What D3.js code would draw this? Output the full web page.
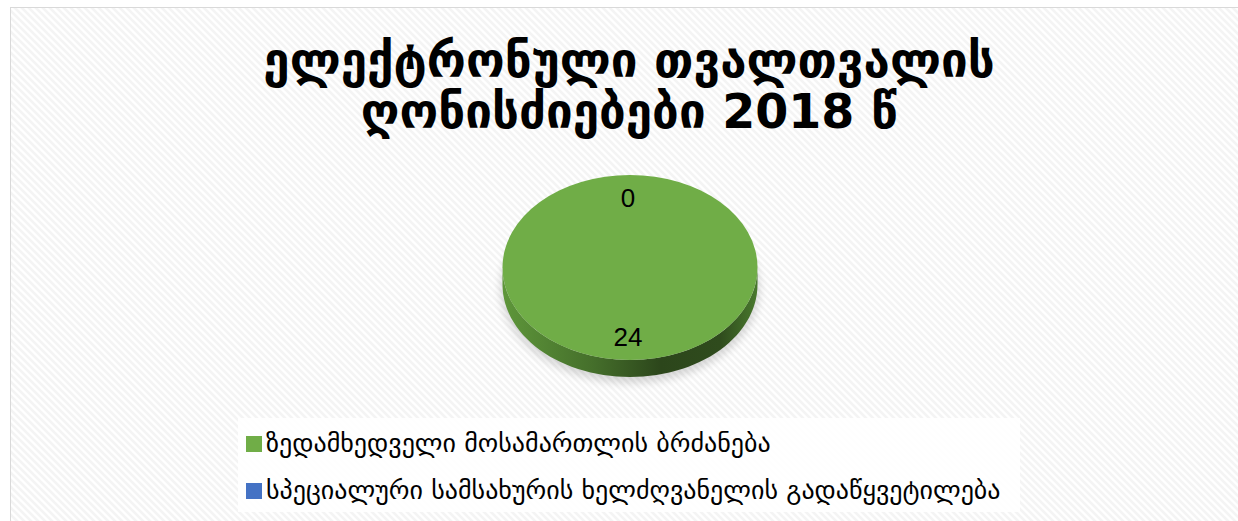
<!DOCTYPE html>
<html>
<head>
<meta charset="utf-8">
<script src="https://cdnjs.cloudflare.com/ajax/libs/d3/7.8.5/d3.min.js"></script>
<style>
  body { margin: 0; background: #fff; }
</style>
</head>
<body>
<div id="chart"></div>
<script>
// chart data
var titleLines = ["ელექტრონული თვალთვალის", "ღონისძიებები 2018 წ"];
var categories = ["ზედამხედველი მოსამართლის ბრძანება",
                  "სპეციალური სამსახურის ხელძღვანელის გადაწყვეტილება"];
var values = [24, 0];
var colors = ["#70ad47", "#4472c4"];

var svgWidth = 1238;
var svgHeight = 521;

var svg = d3.select("#chart")
  .append("svg")
  .attr("width", svgWidth)
  .attr("height", svgHeight);

var defs = svg.append("defs");

// diagonal hatch background
var pat = defs.append("pattern")
  .attr("id", "hatch")
  .attr("patternUnits", "userSpaceOnUse")
  .attr("width", 7)
  .attr("height", 7);
pat.append("rect").attr("width", 7).attr("height", 7).attr("fill", "#ffffff");
pat.append("path")
  .attr("d", "M-1,-1 L8,8 M-8,-1 L1,8 M6,-1 L15,8")
  .attr("stroke", "#f4f4f4")
  .attr("stroke-width", 2.6);

// side gradient
var grad = defs.append("linearGradient")
  .attr("id", "sideGrad")
  .attr("gradientUnits", "userSpaceOnUse")
  .attr("x1", 503).attr("x2", 758).attr("y1", 0).attr("y2", 0);
[["0%", "#5e963a"], ["35%", "#456f2b"], ["62%", "#2c461b"], ["85%", "#2f4b1d"], ["100%", "#4a7a2e"]]
  .forEach(function(s) {
    grad.append("stop").attr("offset", s[0]).attr("stop-color", s[1]);
  });

var blur = defs.append("filter").attr("id", "shadow")
  .attr("x", "-20%").attr("y", "-20%").attr("width", "140%").attr("height", "140%");
blur.append("feGaussianBlur").attr("stdDeviation", 4);

// chart frame
svg.append("rect")
  .attr("x", 10.5).attr("y", 7.5)
  .attr("width", 1250).attr("height", 530)
  .attr("fill", "url(#hatch)")
  .attr("stroke", "#d9d9d9")
  .attr("stroke-width", 1);

// title
var title = svg.append("text")
  .attr("text-anchor", "middle")
  .attr("font-family", "DejaVu Sans")
  .attr("font-weight", "bold")
  .attr("font-size", 47.5)
  .attr("fill", "#000");
titleLines.forEach(function(t, i) {
  title.append("tspan")
    .attr("x", 629)
    .attr("y", 77 + i * 51)
    .text(t);
});

// 3d pie
var cx = 630, cy = 267.5, rx = 127.5, ry = 92.5, depth = 17;

var pie = d3.pie().sort(null).value(d => d);
var arcs = pie(values);

function ex(a, r) { return cx + r * Math.sin(a); }
function ey(a, r, off) { return cy - (r * ry / rx) * Math.cos(a) + (off || 0); }

// shadow under pie
svg.append("ellipse")
  .attr("cx", cx).attr("cy", cy + depth + 4)
  .attr("rx", rx + 2).attr("ry", ry + 2)
  .attr("fill", "#000")
  .attr("opacity", 0.15)
  .attr("filter", "url(#shadow)");

// side walls (front half only)
arcs.forEach(function(d) {
  var a0 = Math.max(d.startAngle, Math.PI / 2);
  var a1 = Math.min(d.endAngle, Math.PI * 1.5);
  if (a1 <= a0) return;
  var pts = [];
  var n = 60;
  for (var i = 0; i <= n; i++) {
    var a = a0 + (a1 - a0) * i / n;
    pts.push([ex(a, rx), ey(a, rx)]);
  }
  for (var j = n; j >= 0; j--) {
    var b = a0 + (a1 - a0) * j / n;
    pts.push([ex(b, rx), ey(b, rx, depth)]);
  }
  svg.append("path")
    .attr("d", d3.line()(pts) + "Z")
    .attr("fill", "url(#sideGrad)");
});

// top face
var arc = d3.arc().innerRadius(0).outerRadius(rx);
var topFace = svg.append("g")
  .attr("transform", `translate(${cx},${cy}) scale(1,${ry / rx})`);
topFace.selectAll("path")
  .data(arcs)
  .enter()
  .append("path")
  .attr("d", arc)
  .attr("fill", (d, i) => colors[i]);

// data labels
var labelR = rx * 0.75;
svg.selectAll(".lbl")
  .data(arcs)
  .enter()
  .append("text")
  .attr("class", "lbl")
  .attr("x", d => ex((d.startAngle + d.endAngle) / 2, labelR) - 2)
  .attr("y", d => ey((d.startAngle + d.endAngle) / 2, labelR))
  .attr("dy", "0.35em")
  .attr("text-anchor", "middle")
  .attr("font-family", "Liberation Sans")
  .attr("font-size", 26)
  .attr("fill", "#000")
  .text(d => d.data);

// legend
svg.append("rect")
  .attr("x", 238).attr("y", 418)
  .attr("width", 782).attr("height", 94)
  .attr("fill", "#ffffff")
  .attr("opacity", 0.85);

var legend = svg.selectAll(".leg")
  .data(categories)
  .enter()
  .append("g")
  .attr("class", "leg")
  .attr("transform", (d, i) => `translate(246, ${436 + i * 47})`);
legend.append("rect")
  .attr("width", 16).attr("height", 16)
  .attr("fill", (d, i) => colors[i]);
legend.append("text")
  .attr("x", 20)
  .attr("y", 16)
  .attr("font-family", "DejaVu Sans")
  .attr("font-size", 26)
  .attr("fill", "#000")
  .text(d => d);
</script>
</body>
</html>
